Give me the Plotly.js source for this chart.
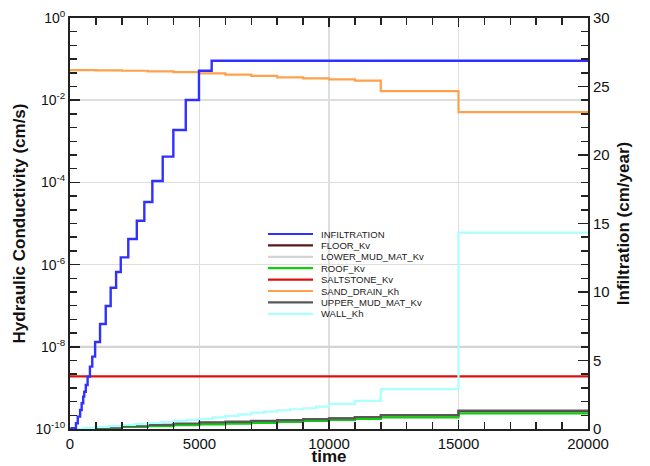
<!DOCTYPE html>
<html><head><meta charset="utf-8">
<script src="https://cdn.plot.ly/plotly-3.0.1.min.js"></script>
<style>html,body{margin:0;padding:0;background:#fff}#chart{width:650px;height:466px}</style>
</head><body><div id="chart"></div>
<script>
// ---- data ----
const infilTime = [0, 70, 230, 300, 390, 450, 510, 550, 610, 680, 770, 860, 970, 1160, 1380, 1570, 1780, 1960, 2250, 2580, 2870, 3180, 3580, 3990, 4470, 4980, 5470, 20000];
const infilRate = [0, 0.05, 0.42, 0.9, 1.39, 1.88, 2.36, 2.72, 3.21, 3.82, 4.55, 5.28, 6.35, 7.66, 8.98, 10.31, 11.46, 12.53, 13.87, 15.2, 16.57, 18.1, 19.88, 21.82, 24.01, 26.15, 26.88, 26.88];

const kTime = [0, 1000, 2000, 3000, 4000, 5000, 6000, 7000, 8000, 9000, 10000, 11000, 12000, 15000, 20000];
const floorKv     = [1.0e-10, 1.07e-10, 1.15e-10, 1.23e-10, 1.32e-10, 1.42e-10, 1.48e-10, 1.54e-10, 1.61e-10, 1.69e-10, 1.78e-10, 1.91e-10, 2.13e-10, 2.70e-10, 2.70e-10];
const upperMudKv  = [1.0e-10, 1.08e-10, 1.17e-10, 1.26e-10, 1.36e-10, 1.46e-10, 1.52e-10, 1.58e-10, 1.65e-10, 1.73e-10, 1.82e-10, 1.96e-10, 2.19e-10, 2.80e-10, 2.80e-10];
const roofKv      = [1.0e-10, 1.06e-10, 1.12e-10, 1.18e-10, 1.24e-10, 1.30e-10, 1.35e-10, 1.41e-10, 1.49e-10, 1.57e-10, 1.66e-10, 1.75e-10, 1.91e-10, 2.39e-10, 2.39e-10];
const sandDrainKh = [0.054, 0.053, 0.052, 0.050, 0.048, 0.045, 0.042, 0.039, 0.036, 0.034, 0.032, 0.030, 0.0166, 0.0051, 0.0051];
const lowerMudKv  = [1e-8, 1e-8, 1e-8, 1e-8, 1e-8, 1e-8, 1e-8, 1e-8, 1e-8, 1e-8, 1e-8, 1e-8, 1e-8, 1e-8, 1e-8];
const saltstoneKv = [1.9e-9, 1.9e-9, 1.9e-9, 1.9e-9, 1.9e-9, 1.9e-9, 1.9e-9, 1.9e-9, 1.9e-9, 1.9e-9, 1.9e-9, 1.9e-9, 1.9e-9, 1.9e-9, 1.9e-9];

const wallTime = [0, 500, 1000, 1500, 2000, 2500, 3000, 3500, 4000, 4500, 5000, 5500, 6000, 6500, 7000, 7500, 8000, 8500, 9000, 9500, 10000, 11000, 12000, 15000, 20000];
const wallKh   = [1.0e-10, 1.06e-10, 1.12e-10, 1.18e-10, 1.25e-10, 1.32e-10, 1.40e-10, 1.48e-10, 1.57e-10, 1.66e-10, 1.75e-10, 1.91e-10, 2.07e-10, 2.26e-10, 2.50e-10, 2.64e-10, 2.86e-10, 3.02e-10, 3.20e-10, 3.50e-10, 4.07e-10, 4.82e-10, 9.3e-10, 6.0e-6, 6.0e-6];

const seriesNames = ['INFILTRATION', 'FLOOR_Kv', 'LOWER_MUD_MAT_Kv', 'ROOF_Kv', 'SALTSTONE_Kv', 'SAND_DRAIN_Kh', 'UPPER_MUD_MAT_Kv', 'WALL_Kh'];
const yTickVals = [1, 1e-2, 1e-4, 1e-6, 1e-8, 1e-10];
const yTickText = ['10<sup>0</sup>', '10<sup>-2</sup>', '10<sup>-4</sup>', '10<sup>-6</sup>', '10<sup>-8</sup>', '10<sup>-10</sup>'];
const xTickVals = [0, 5000, 10000, 15000, 20000];
const xTickText = ['0', '5000', '10000', '15000', '20000'];

// ---- styles ----
const colors = ['#3030ff', '#5a1a1a', '#d4d4d4', '#10cc10', '#dd1010', '#ffa04c', '#585858', '#aaffff'];
const widths = [2.4, 2.2, 2.2, 2.2, 2.2, 2.2, 2.2, 2.2];

function tr(i, x, y, axis) {
  return {x: x, y: y, name: seriesNames[i], type: 'scatter', mode: 'lines',
    line: {shape: 'hv', color: colors[i], width: widths[i]}, yaxis: axis, showlegend: false};
}

const data = [
  tr(0, infilTime, infilRate, 'y2'),
  tr(1, kTime, floorKv, 'y'),
  tr(2, kTime, lowerMudKv, 'y'),
  tr(3, kTime, roofKv, 'y'),
  tr(4, kTime, saltstoneKv, 'y'),
  tr(5, kTime, sandDrainKh, 'y'),
  tr(6, kTime, upperMudKv, 'y'),
  tr(7, wallTime, wallKh, 'y')
];

const minorY = [];
for (let k = 1; k < 30; k++) minorY.push(Math.pow(10, -k / 3));

// ---- compact legend (key lines + labels) in paper coordinates ----
const plotL = 70, plotW = 518, plotT = 18, plotH = 411;
const px = (p) => (p - plotL) / plotW;
const py = (p) => (plotT + plotH - p) / plotH;
const legTop = 234, legStep = 11.4;
const shapes = [{type: 'rect', xref: 'paper', yref: 'paper', x0: px(262), x1: px(434), y0: py(224), y1: py(324),
  fillcolor: '#fff', line: {width: 0}, layer: 'between'}];
const annotations = [];
seriesNames.forEach((n, i) => {
  const yy = py(legTop + i * legStep);
  shapes.push({type: 'line', xref: 'paper', yref: 'paper', x0: px(268), x1: px(313), y0: yy, y1: yy,
    line: {color: colors[i], width: 2.2}, layer: 'above'});
  annotations.push({xref: 'paper', yref: 'paper', x: px(319), y: yy, xanchor: 'left', yanchor: 'middle',
    text: n, showarrow: false, font: {family: 'Liberation Sans, Arial, sans-serif', size: 9.5, color: '#1a1a1a'}});
});

const font = 'Liberation Sans, Arial, sans-serif';
const layout = {
  width: 650, height: 466,
  margin: {l: 70, r: 62, t: 18, b: 37},
  paper_bgcolor: '#fff', plot_bgcolor: '#fff',
  font: {family: font, color: '#111', size: 14},
  showlegend: false,
  shapes: shapes,
  annotations: annotations,
  xaxis: {
    range: [0, 20000], tickmode: 'array', tickvals: xTickVals, ticktext: xTickText,
    ticks: 'inside', ticklen: 9, tickwidth: 1.5, tickcolor: '#222',
    showline: true, linecolor: '#222', linewidth: 2, mirror: 'ticks',
    showgrid: true, gridcolor: '#dedede', gridwidth: 1.5, zeroline: false,
    minor: {dtick: 1000, ticks: 'inside', ticklen: 7, tickwidth: 1.5, tickcolor: '#222', showgrid: false},
    tickfont: {size: 15},
    title: {text: '<b>time</b>', font: {size: 17}, standoff: 6}
  },
  yaxis: {
    type: 'log', range: [-10, 0], tickmode: 'array', tickvals: yTickVals, ticktext: yTickText,
    ticks: 'inside', ticklen: 10, tickwidth: 1.5, tickcolor: '#222',
    showline: true, linecolor: '#222', linewidth: 2,
    showgrid: true, gridcolor: '#dedede', gridwidth: 1.5, zeroline: false,
    minor: {tickvals: minorY, ticks: 'inside', ticklen: 7, tickwidth: 1.5, tickcolor: '#222', showgrid: false},
    tickfont: {size: 14},
    title: {text: '<b>Hydraulic Conductivity (cm/s)</b>', font: {size: 17}, standoff: 6}
  },
  yaxis2: {
    overlaying: 'y', side: 'right', range: [0, 30], dtick: 5,
    ticks: 'inside', ticklen: 10, tickwidth: 1.5, tickcolor: '#222',
    showline: true, linecolor: '#222', linewidth: 2,
    showgrid: false, zeroline: false,
    minor: {dtick: 1, ticks: 'inside', ticklen: 7, tickwidth: 1.5, tickcolor: '#222', showgrid: false},
    tickfont: {size: 15},
    title: {text: '<b>Infiltration (cm/year)</b>', font: {size: 17}, standoff: 8}
  }
};

Plotly.newPlot('chart', data, layout, {displayModeBar: false, staticPlot: true});
</script>
</body></html>
